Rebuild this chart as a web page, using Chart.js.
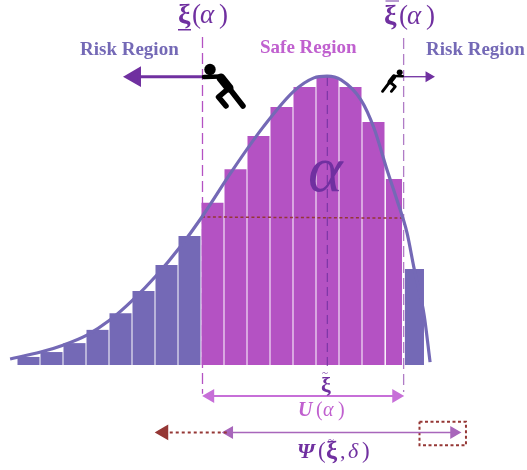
<!DOCTYPE html>
<html>
<head>
<meta charset="utf-8">
<title>Safe region and risk regions</title>
<script src="https://cdn.jsdelivr.net/npm/chart.js@4/dist/chart.umd.min.js"></script>
<style>
    body { margin: 0; background: #fff; }
    canvas { display: block; }
</style>
</head>
<body>
<canvas id="regionChart" width="527" height="470"></canvas>
<script>
// histogram bins (x in bin units, y in percent of the peak bar)
const binCenters = [0, 1, 2, 3, 4, 5, 6, 7, 8, 9, 10, 11, 12, 13, 14, 15, 15.89, 16.78];
const binWidths = [0.957, 0.957, 0.957, 0.957, 0.957, 0.957, 0.957, 0.957, 0.957, 0.957, 0.957, 0.957, 0.957, 0.957, 0.957, 0.957, 0.7, 0.83];
const binHeights = [2.8, 4.5, 7.6, 12.2, 18, 25.7, 34.7, 44.8, 56.3, 68, 79.5, 89.6, 96.5, 100, 96.5, 84.4, 64.6, 33.3];

// density curve
const curveX = [-0.8, 0.53, 1.5, 2.54, 3.54, 4.54, 5.54, 6.59, 7.54, 8.85, 10.2, 11.54, 12.41, 12.98, 13.59, 14.46, 15.02, 15.59, 16.02, 16.46, 16.76, 17.2, 17.46];
const curveY = [2.1, 4.5, 6.9, 10.4, 15.6, 22.6, 30.9, 41, 51.4, 67.4, 82.6, 95.1, 99.7, 100.3, 99, 92, 82.3, 67.7, 57.3, 45.8, 33.7, 17.4, 1];

// region bounds and guide levels
const lowerBound = 7.565;
const upperBound = 16.31;
const center = 12.99;
const guideTop = 113.9;
const guideBottom = -10;
const alphaLevelX = [7.54, 16.24];
const alphaLevelY = [51.4, 51];
const pushLevel = 100.1;
const uLevel = -10.76;
const psiLevel = -23.4;
const boxX = [17, 19.02, 19.02, 17, 17];
const boxY = [-19.69, -19.69, -27.88, -27.88, -19.69];

const RISK = '#7469b6';
const SAFE = '#b452c3';
const DEEP = '#7030a0';
const BROWN = '#953735';
const PINK = '#c060cf';

function pts(xs, ys) {
    return xs.map((x, i) => ({ x: x, y: ys[i] }));
}

function guide(xs, ys, color, width, extra) {
    return Object.assign({
        type: 'line',
        data: pts(xs, ys),
        borderColor: color,
        backgroundColor: color,
        borderWidth: width,
        pointRadius: 0,
        fill: false,
        order: 1
    }, extra);
}

// bins are not all the same width, so size each bar from the x scale
const binWidthPlugin = {
    id: 'binWidth',
    afterDatasetsUpdate(chart) {
        const xScale = chart.scales.x;
        chart.getDatasetMeta(0).data.forEach((bar, i) => {
            const left = xScale.getPixelForValue(binCenters[i] - binWidths[i] / 2);
            const right = xScale.getPixelForValue(binCenters[i] + binWidths[i] / 2);
            bar.x = (left + right) / 2;
            bar.width = right - left;
        });
    }
};

function limb(ctx, width, points) {
    ctx.lineWidth = width;
    ctx.beginPath();
    points.forEach((p, i) => i ? ctx.lineTo(p[0], p[1]) : ctx.moveTo(p[0], p[1]));
    ctx.stroke();
}

// figure leaning left, hands on the bound; flip turns it round
function pusher(ctx, ox, oy, scale, flip) {
    ctx.save();
    ctx.translate(ox, oy);
    ctx.scale(flip ? -scale : scale, scale);
    ctx.strokeStyle = '#000';
    ctx.fillStyle = '#000';
    ctx.lineCap = 'round';
    ctx.lineJoin = 'round';
    ctx.beginPath();
    ctx.arc(210, 69.5, 5.7, 0, Math.PI * 2);
    ctx.fill();
    limb(ctx, 9, [[221, 78], [229, 88]]);
    limb(ctx, 5.5, [[229, 88], [218.5, 97], [226, 106]]);
    limb(ctx, 5.5, [[229, 88], [243, 106]]);
    limb(ctx, 4.5, [[204, 77], [221, 76.5]]);
    ctx.restore();
}

function mathText(ctx, text, x, y, font, color) {
    ctx.font = font;
    ctx.fillStyle = color;
    ctx.fillText(text, x, y);
}

const labelPlugin = {
    id: 'labels',
    afterDatasetsDraw(chart) {
        const ctx = chart.ctx;
        ctx.save();
        ctx.textBaseline = 'alphabetic';
        ctx.textAlign = 'left';

        const bold = 'bold 19px "Liberation Serif"';
        mathText(ctx, 'Risk Region', 80, 55, bold, RISK);
        mathText(ctx, 'Safe Region', 260, 53, bold, PINK);
        mathText(ctx, 'Risk Region', 426, 55, bold, RISK);

        // lower bound label
        mathText(ctx, 'ξ', 178, 23, 'bold 28px "Liberation Serif"', DEEP);
        mathText(ctx, '(', 192, 23, '27px "Liberation Serif"', DEEP);
        mathText(ctx, 'α', 200, 23, 'italic 27px "Liberation Serif"', DEEP);
        mathText(ctx, ')', 219, 23, '27px "Liberation Serif"', DEEP);
        ctx.fillStyle = DEEP;
        ctx.fillRect(178, 29, 13, 1.5);

        // upper bound label
        ctx.fillStyle = '#b79ad0';
        ctx.fillRect(385.5, 0, 13.5, 2);
        mathText(ctx, 'ξ', 384, 24, 'bold 28px "Liberation Serif"', DEEP);
        mathText(ctx, '(', 399, 24, '27px "Liberation Serif"', DEEP);
        mathText(ctx, 'α', 407, 24, 'italic 27px "Liberation Serif"', DEEP);
        mathText(ctx, ')', 426, 24, '27px "Liberation Serif"', DEEP);

        mathText(ctx, 'α', 308, 191, 'italic 66px "Liberation Serif"', DEEP);

        // centre label
        mathText(ctx, '~', 322, 376, '11px "Liberation Serif"', DEEP);
        mathText(ctx, 'ξ', 321, 392, 'bold 22px "Liberation Serif"', DEEP);

        mathText(ctx, 'U', 298, 416, 'bold italic 20px "Liberation Serif"', PINK);
        mathText(ctx, '(', 316, 416, '20px "Liberation Serif"', PINK);
        mathText(ctx, 'α', 323, 416, 'italic 20px "Liberation Serif"', PINK);
        mathText(ctx, ')', 338, 416, '20px "Liberation Serif"', PINK);

        mathText(ctx, 'Ψ', 297, 458, 'bold italic 22px "Liberation Serif"', DEEP);
        mathText(ctx, '(', 318, 458, '23px "Liberation Serif"', DEEP);
        mathText(ctx, '~', 328, 443, '11px "Liberation Serif"', DEEP);
        mathText(ctx, 'ξ', 326, 459, 'bold 25px "Liberation Serif"', DEEP);
        mathText(ctx, ',', 340, 458, '22px "Liberation Serif"', DEEP);
        mathText(ctx, 'δ', 348, 458, 'italic 22px "Liberation Serif"', DEEP);
        mathText(ctx, ')', 362, 458, '23px "Liberation Serif"', DEEP);

        // the two figures pushing the bounds apart
        pusher(ctx, 0, 0, 1, false);
        pusher(ctx, 508.9, 36.2, 0.52, true);
        ctx.restore();
    }
};

const ctx = document.getElementById('regionChart').getContext('2d');

new Chart(ctx, {
    type: 'bar',
    data: {
        datasets: [
            {
                type: 'bar',
                data: pts(binCenters, binHeights),
                backgroundColor: binCenters.map(c => (c < lowerBound || c > upperBound) ? RISK : SAFE),
                order: 2
            },
            guide([lowerBound, lowerBound], [guideTop, guideBottom], SAFE, 1.3, { borderDash: [11, 5], order: 3 }),
            guide([upperBound, upperBound], [113.5, -9.4], '#b07cc6', 1.3, { borderDash: [11, 5], order: 3 }),
            guide(curveX, curveY, RISK, 3.2, { cubicInterpolationMode: 'monotone', order: 1 }),
            guide([center, center], [100, -0.35], DEEP, 1, { borderDash: [9, 5] }),
            guide(alphaLevelX, alphaLevelY, BROWN, 1.5, { borderDash: [3, 2.5] }),
            guide([4.63, 7.585], [pushLevel, pushLevel], DEEP, 3, {
                pointStyle: 'triangle', pointRadius: [9, 0], pointRotation: [-90, 0]
            }),
            guide([upperBound, 17.4], [pushLevel, pushLevel], DEEP, 1.3, {
                pointStyle: 'triangle', pointRadius: [0, 5], pointRotation: [0, 90]
            }),
            guide([7.9, 15.99], [uLevel, uLevel], '#c76fd8', 2, {
                pointStyle: 'triangle', pointRadius: [6, 6], pointRotation: [-90, 90]
            }),
            guide([5.88, 8.73], [psiLevel, psiLevel], BROWN, 2, {
                borderDash: [3, 3], pointStyle: 'triangle', pointRadius: [7, 0], pointRotation: [-90, 0]
            }),
            guide([8.73, 18.5], [psiLevel, psiLevel], '#a866bb', 1.5, {
                pointStyle: 'triangle', pointRadius: [6, 6], pointRotation: [-90, 90]
            }),
            guide(boxX, boxY, BROWN, 2, { borderDash: [3, 2.5] })
        ]
    },
    options: {
        responsive: false,
        animation: false,
        events: [],
        layout: { padding: 0, autoPadding: false },
        plugins: {
            legend: { display: false },
            tooltip: { enabled: false }
        },
        scales: {
            x: { type: 'linear', display: false, offset: false, min: -1.2391, max: 21.674 },
            y: { display: false, min: -36.458, max: 126.736 }
        }
    },
    plugins: [binWidthPlugin, labelPlugin]
});
</script>
</body>
</html>
